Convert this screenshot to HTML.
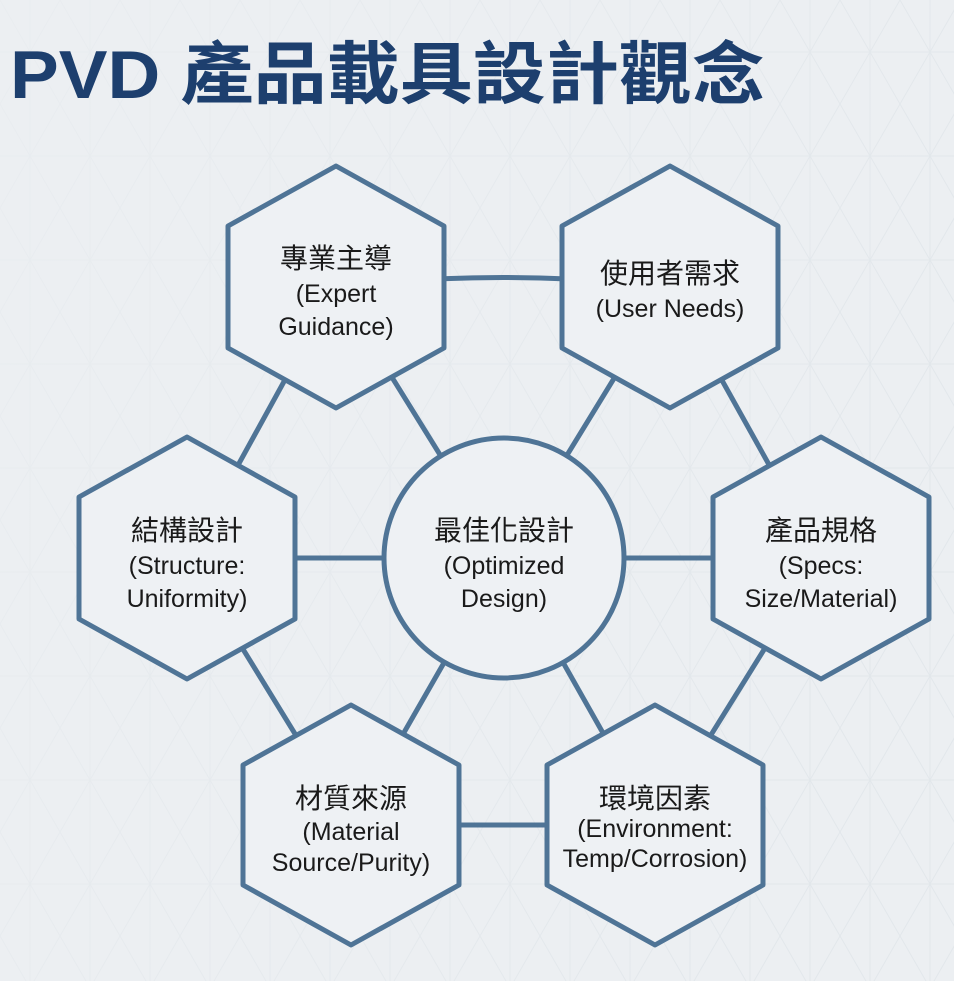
<!DOCTYPE html>
<html><head><meta charset="utf-8"><style>
html,body{margin:0;padding:0;background:#eceff2;}
svg{display:block}
.cj{font-family:"Liberation Sans","Noto Sans CJK TC",sans-serif;font-size:28px;fill:#1a1a1a;text-anchor:middle}
.en{font-family:"Liberation Sans",sans-serif;font-size:25px;fill:#1a1a1a;text-anchor:middle}
</style></head><body>
<svg width="954" height="981" viewBox="0 0 954 981" xmlns="http://www.w3.org/2000/svg">
<defs>
<pattern id="g" width="60" height="104" patternUnits="userSpaceOnUse">
<path d="M0 0L60 104M60 0L0 104M0 52H60M30 0V104" stroke="#e2e7eb" stroke-width="1" fill="none"/>
</pattern>
<linearGradient id="fade" x1="0" y1="0" x2="1" y2="0.3">
<stop offset="0" stop-color="#eceff2" stop-opacity="1"/>
<stop offset="0.6" stop-color="#eceff2" stop-opacity="0.4"/>
<stop offset="1" stop-color="#eceff2" stop-opacity="0"/>
</linearGradient>
</defs>
<rect width="954" height="981" fill="#eceff2"/>
<rect width="954" height="981" fill="url(#g)"/>
<rect width="954" height="981" fill="url(#fade)" opacity="0.7"/>
<text x="10" y="98" font-family="Liberation Sans,'Noto Sans CJK TC',sans-serif" font-weight="bold" font-size="68" fill="#1d3f6e" textLength="755" lengthAdjust="spacingAndGlyphs">PVD 產品載具設計觀念</text>
<g stroke="#4f7496" stroke-width="5" fill="none">
<path d="M336 287 Q503 268 670 287"/>
<line x1="336" y1="287" x2="187" y2="558"/>
<line x1="670" y1="287" x2="821" y2="558"/>
<line x1="187" y1="558" x2="351" y2="825"/>
<line x1="821" y1="558" x2="655" y2="825"/>
<line x1="351" y1="825" x2="655" y2="825"/>
<line x1="504" y1="558" x2="336" y2="287"/>
<line x1="504" y1="558" x2="670" y2="287"/>
<line x1="504" y1="558" x2="187" y2="558"/>
<line x1="504" y1="558" x2="821" y2="558"/>
<line x1="504" y1="558" x2="351" y2="825"/>
<line x1="504" y1="558" x2="655" y2="825"/>
</g>
<g stroke="#4f7496" stroke-width="5" fill="#eef1f4" stroke-linejoin="round">
<polygon points="336,166 444,226 444,348 336,408 228,348 228,226"/>
<polygon points="670,166 778,226 778,348 670,408 562,348 562,226"/>
<polygon points="187,437 295,497 295,619 187,679 79,619 79,497"/>
<polygon points="821,437 929,497 929,619 821,679 713,619 713,497"/>
<polygon points="351,705 459,765 459,885 351,945 243,885 243,765"/>
<polygon points="655,705 763,765 763,885 655,945 547,885 547,765"/>
<circle cx="504" cy="558" r="120"/>
</g>
<text class="cj" x="336" y="268">專業主導</text>
<text class="en" x="336" y="302">(Expert</text>
<text class="en" x="336" y="335">Guidance)</text>
<text class="cj" x="670" y="283">使用者需求</text>
<text class="en" x="670" y="317">(User Needs)</text>
<text class="cj" x="187" y="540">結構設計</text>
<text class="en" x="187" y="574">(Structure:</text>
<text class="en" x="187" y="607">Uniformity)</text>
<text class="cj" x="504" y="540">最佳化設計</text>
<text class="en" x="504" y="574">(Optimized</text>
<text class="en" x="504" y="607">Design)</text>
<text class="cj" x="821" y="540">產品規格</text>
<text class="en" x="821" y="574">(Specs:</text>
<text class="en" x="821" y="607">Size/Material)</text>
<text class="cj" x="351" y="808">材質來源</text>
<text class="en" x="351" y="840">(Material</text>
<text class="en" x="351" y="871">Source/Purity)</text>
<text class="cj" x="655" y="808">環境因素</text>
<text class="en" x="655" y="837" font-size="23">(Environment:</text>
<text class="en" x="655" y="867" font-size="23">Temp/Corrosion)</text>
</svg>
</body></html>
